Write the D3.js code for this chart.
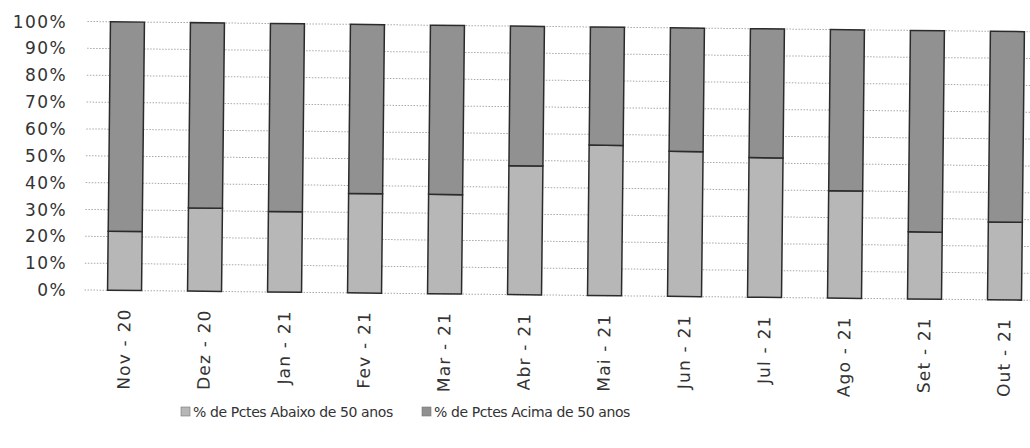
<!DOCTYPE html>
<html>
<head>
<meta charset="utf-8">
<script src="https://cdn.jsdelivr.net/npm/d3@7"></script>
<style>
  body { margin: 0; background: #fff; }
  text { font-family: 'DejaVu Sans', sans-serif; fill: #333; }
</style>
</head>
<body>
<div class="canvas"></div>
<script>
const months = ['Nov - 20', 'Dez - 20', 'Jan - 21', 'Fev - 21', 'Mar - 21', 'Abr - 21',
  'Mai - 21', 'Jun - 21', 'Jul - 21', 'Ago - 21', 'Set - 21', 'Out - 21']
const abaixo = [22, 31, 30, 37, 37, 48, 56, 54, 52, 40, 25, 29]
const acima = [78, 69, 70, 63, 63, 52, 44, 46, 48, 60, 75, 71]
const yTicks = [0, 10, 20, 30, 40, 50, 60, 70, 80, 90, 100]
const seriesNames = ['% de Pctes Abaixo de 50 anos', '% de Pctes Acima de 50 anos']
const colors = ['#b7b7b7', '#919191']

const width = 1030
const height = 448

const svg = d3.select('.canvas').append('svg')
  .attr('width', width)
  .attr('height', height)

const rows = months.map((m, i) => ({ month: m, abaixo: abaixo[i], acima: acima[i] }))
const stacked = d3.stack().keys(['abaixo', 'acima'])(rows)

const x = d3.scaleBand()
  .domain(months)
  .range([86, 1046])
  .paddingInner(0.575)
  .paddingOuter(0.2875)

const y = d3.scaleLinear()
  .domain([0, 100])
  .range([290, 21.5])

// y labels stay put, the scanned plot is a bit tilted
svg.append('g')
  .selectAll('text')
  .data(yTicks)
  .enter().append('text')
  .attr('x', 67)
  .attr('y', d => y(d))
  .attr('dy', '0.36em')
  .attr('text-anchor', 'end')
  .attr('font-size', 17)
  .attr('letter-spacing', 1.4)
  .text(d => d + '%')

const plot = svg.append('g')
  .attr('transform', 'rotate(0.62, 86, 156)')

plot.append('g')
  .selectAll('line')
  .data(yTicks)
  .enter().append('line')
  .attr('x1', 86)
  .attr('x2', 1040)
  .attr('y1', d => y(d))
  .attr('y2', d => y(d))
  .attr('stroke', '#a8a8a8')
  .attr('stroke-width', 1)
  .attr('stroke-dasharray', '1.5,1.5')

plot.append('g')
  .selectAll('g')
  .data(stacked)
  .enter().append('g')
  .attr('fill', (d, i) => colors[i])
  .selectAll('rect')
  .data(d => d)
  .enter().append('rect')
  .attr('x', d => x(d.data.month))
  .attr('y', d => y(d[1]))
  .attr('width', x.bandwidth())
  .attr('height', d => y(d[0]) - y(d[1]))
  .attr('stroke', '#2b2b2b')
  .attr('stroke-width', 1.5)

// month labels
plot.append('g')
  .selectAll('text')
  .data(months)
  .enter().append('text')
  .attr('transform', d => `translate(${x(d) + x.bandwidth() / 2}, 308) rotate(-90)`)
  .attr('dy', '0.36em')
  .attr('text-anchor', 'end')
  .attr('font-size', 17)
  .attr('letter-spacing', 1.2)
  .text(d => d)

// legend
const legendX = [181, 422]
const legend = svg.append('g')
  .selectAll('g')
  .data(seriesNames)
  .enter().append('g')
  .attr('transform', (d, i) => `translate(${legendX[i]}, 407)`)

legend.append('rect')
  .attr('width', 9)
  .attr('height', 9)
  .attr('fill', (d, i) => colors[i])
  .attr('stroke', '#777')
  .attr('stroke-width', 0.6)

legend.append('text')
  .attr('x', 12)
  .attr('y', 5)
  .attr('dy', '0.36em')
  .attr('font-size', 14)
  .attr('letter-spacing', -0.4)
  .text(d => d)
</script>
</body>
</html>
